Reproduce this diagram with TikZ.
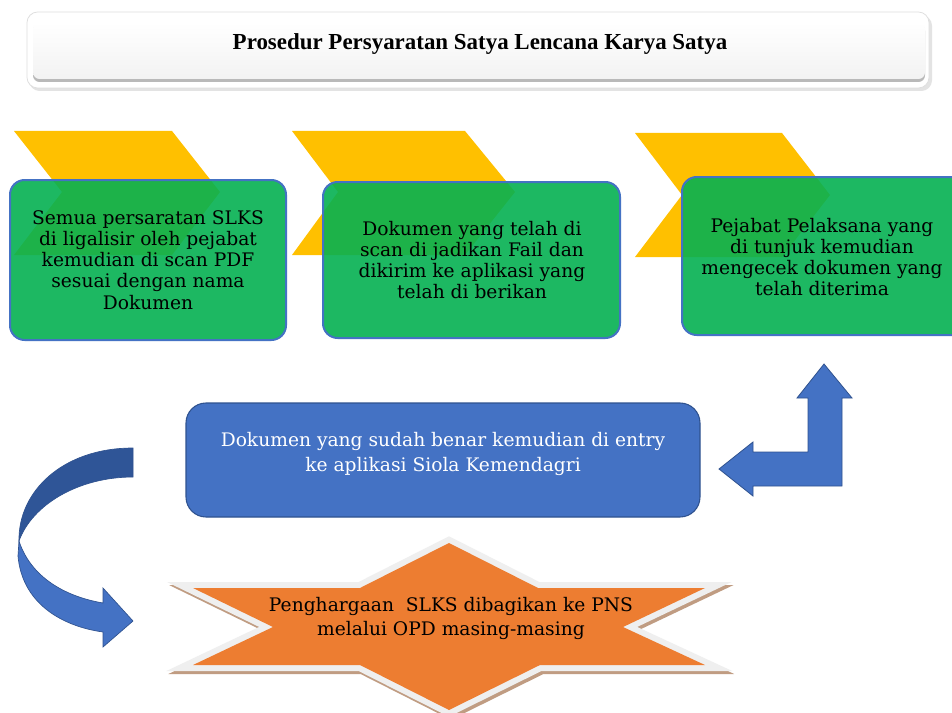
\documentclass[tikz,border=0pt]{standalone}
\usepackage{fontspec}
\setmainfont{DejaVu Serif}
\newfontfamily\titlefont{Liberation Serif}
\definecolor{chev}{HTML}{FFC000}
\definecolor{grn}{HTML}{05B152}
\definecolor{bord}{HTML}{4472C4}
\definecolor{dkblue}{HTML}{2F5597}
\definecolor{edgeblue}{HTML}{2F528F}
\definecolor{orng}{HTML}{ED7D31}
\definecolor{glow}{HTML}{EFEFEF}
\definecolor{shad}{HTML}{C09C82}
\tikzset{
  chevron/.style={fill=chev},
  gbox/.style={fill=grn, fill opacity=0.9, draw=bord, line width=1.5pt, rounded corners=11pt},
  btext/.style={align=center, font=\fontsize{14}{15.9}\selectfont, inner sep=0pt},
  bbox/.style={fill=bord, draw=edgeblue, line width=0.8pt, rounded corners=15pt},
  blockarrow/.style={fill=bord, draw=edgeblue, line width=0.6pt, line join=miter},
}
\begin{document}
\begin{tikzpicture}[x=0.75pt,y=-0.75pt]
\useasboundingbox (0,0) rectangle (952,713);
\clip (0,0) rectangle (952,713);
\fill[white] (0,0) rectangle (952,713);

% title banner
\fill[gray!22, rounded corners=8pt] (29,15) rectangle (932,91);
\draw[gray!25, fill=white, rounded corners=8pt, line width=0.6pt] (27,12) rectangle (929,88);
\fill[gray!55, rounded corners=5pt] (33,24) rectangle (925,82);
\shade[top color=white, bottom color=gray!10, rounded corners=5pt] (33,22) rectangle (925,79);
\node[font=\titlefont\bfseries\fontsize{17.2}{20}\selectfont] (title) at (480,44) {Prosedur Persyaratan Satya Lencana Karya Satya};

% chevrons
\fill[chevron] (14,131) -- (172,131) -- (220,192) -- (172,255) -- (14,255) -- (62,192) -- cycle;
\fill[chevron] (292,131) -- (465,131) -- (515,192) -- (465,255) -- (292,255) -- (338,192) -- cycle;
\fill[chevron] (635,133) -- (782,133) -- (830,195) -- (782,257) -- (635,257) -- (682,195) -- cycle;

% green boxes
\draw[gbox] (10,180) rectangle (286,340);
\node[btext] (s1) at (148,260) {Semua persaratan SLKS\\di ligalisir oleh pejabat\\kemudian di scan PDF\\sesuai dengan nama\\Dokumen};
\draw[gbox] (323,182) rectangle (620,338);
\node[btext] (s2) at (472,260) {Dokumen yang telah di\\scan di jadikan Fail dan\\dikirim ke aplikasi yang\\telah di berikan};
\draw[gbox] (682,177) rectangle (975,335);
\node[btext] (s3) at (822,257) {Pejabat Pelaksana yang\\di tunjuk kemudian\\mengecek dokumen yang\\telah diterima};

% bent arrow
\draw[blockarrow] (824,364) -- (852,398) -- (842,398) -- (842,486) -- (753,486) -- (753,496) -- (719,469) -- (753,442) -- (753,452) -- (808,452) -- (808,398) -- (797,398) -- cycle;

% blue box
\draw[bbox] (186,403) rectangle (700,517);
\node[btext, text=white, font=\fontsize{14}{18.5}\selectfont] (s4) at (443,454) {Dokumen yang sudah benar kemudian di entry\\ke aplikasi Siola Kemendagri};

% curved arrow
\draw[fill=dkblue, draw=edgeblue, line width=0.5pt] (133,448) .. controls (62,448) and (18,492) .. (19,541) .. controls (32,505) and (78,477) .. (133,477) -- cycle;
\draw[fill=bord, draw=edgeblue, line width=0.5pt] (19,541) -- (18,556) .. controls (22,602) and (60,626) .. (103,632) -- (103,647) -- (133,621) -- (103,588) -- (103,603) .. controls (62,596) and (30,575) .. (19,541) -- cycle;

% star
\def\starpath{(193,588) -- (360,588) -- (449,543) -- (538,588) -- (705,588) -- (623,627) -- (705,665) -- (540,665) -- (449,710) -- (360,665) -- (193,665) -- (273,627) -- cycle}
\draw[shad, line width=9pt, line join=miter, shift={(2,3)}] \starpath;
\draw[glow, line width=9pt, line join=miter] \starpath;
\fill[orng] \starpath;
\node[btext, font=\fontsize{14}{18}\selectfont] (s5) at (451,618) {Penghargaan\ \ SLKS dibagikan ke PNS\\melalui OPD masing-masing};
\end{tikzpicture}
\end{document}
